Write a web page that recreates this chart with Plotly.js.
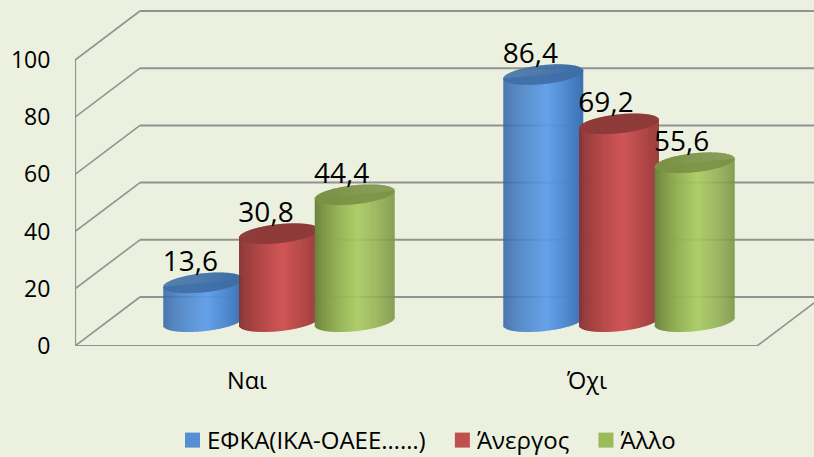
<!DOCTYPE html>
<html><head><meta charset="utf-8"><script src="https://cdn.plot.ly/plotly-3.0.1.min.js"></script>
<style>html,body{margin:0;padding:0;background:#ebf0df}</style></head>
<body><div id="chart" style="width:814px;height:457px"></div>
<script>
const categories = ['Ναι', 'Όχι'];
const seriesNames = ['ΕΦΚΑ(ΙΚΑ-ΟΑΕΕ……)\u00a0', 'Άνεργος\u00a0', 'Άλλο'];
const efka = [13.6, 86.4];
const anergos = [30.8, 69.2];
const allo = [44.4, 55.6];
const yTicks = [0, 20, 40, 60, 80, 100];
const legendColors = ['#558ed5', '#c0504d', '#9bbb59'];
const darkColors = [[50,98,160],[132,50,50],[104,128,58]];
const lightColors = [[90,155,232],[208,86,86],[168,202,96]];
const topColors = ['#3f6ea6','#8f3b3a','#7b9246'];

const seriesValues = [efka, anergos, allo];
const PXY = 2.86, PXX = 340;
const depthX = 65 / PXX, depthY = 49 / PXY;   // wall depth
const baseY = 8.5, midX = 32 / PXX;           // cylinders stand mid-floor
const step = 75.7 / PXX, halfW = 39.8 / PXX;
const ell = 9.5 / PXY, skew = 4 / PXY;
const stripN = 80;

function mix(a, b, f) { return 'rgb(' + a.map((v, i) => Math.round(v + (b[i] - v) * f)).join(',') + ')'; }

const traces = [];
seriesValues.forEach((vals, s) => {
  const side = {x: [], y: [], base: [], color: []}, top = {x: [], y: [], base: [], color: []};
  vals.forEach((v, c) => {
    const cx = c + midX + (s - 1) * step;
    for (let i = 0; i < stripN; i++) {
      const t = (i + 0.5) / stripN * 2 - 1, r = Math.sqrt(1 - t * t);
      const x = cx + t * halfW;
      const hi = baseY + v + skew * t;
      const low = baseY + skew * t - ell * r;
      side.x.push(x); side.base.push(low); side.y.push(hi - low);
      side.color.push(mix(darkColors[s], lightColors[s], Math.pow(Math.max(0, 1 - Math.abs(t - 0.08) / 1.08), 0.7)));
      top.x.push(x); top.base.push(hi - ell * r); top.y.push(2 * ell * r);
      top.color.push(topColors[s]);
    }
  });
  [side, top].forEach(p => traces.push({
    type: 'bar', x: p.x, y: p.y, base: p.base, width: 1.3 / PXX,
    marker: {color: p.color, opacity: 1, line: {width: 0}}, showlegend: false, hoverinfo: 'skip'
  }));
});

// data labels
seriesValues.forEach((vals, s) => traces.push({
  type: 'scatter', mode: 'text', showlegend: false, hoverinfo: 'skip',
  x: vals.map((v, c) => c + midX + (s - 1) * step - 13 / PXX),
  y: vals.map(v => baseY + v + 19 / PXY),
  text: vals.map(v => String(v).replace('.', ',')),
  textposition: 'middle center',
  textfont: {size: 28, color: '#000', family: 'Open Sans'}, cliponaxis: false
}));

// legend entries
seriesNames.forEach((n, s) => traces.push({
  type: 'scatter', mode: 'markers', name: n, x: [null], y: [null],
  marker: {symbol: 'square', size: 15, color: legendColors[s]}
}));

// walls and floor
const gridColor = '#929292';
const shapes = [];
const xL = -0.5059, xFloorR = xL + (757 - 75) / PXX, xMaxR = 2.2;
const ln = (x0, y0, x1, y1, w) => shapes.push({type: 'line', layer: 'below', xref: 'x', yref: 'y', x0, y0, x1, y1, line: {color: gridColor, width: w}});
yTicks.forEach(v => {
  ln(xL, v, xL + depthX, v + depthY, 1.6);
  ln(xL + depthX, v + depthY, xMaxR, v + depthY, 2);
});
ln(xL, 0, xL, 100, 2.2);
ln(xL, 0, xFloorR, 0, 2.2);
ln(xFloorR, 0, xFloorR + depthX, depthY, 1.6);

Plotly.newPlot('chart', traces, {
  width: 814, height: 457, autosize: false,
  paper_bgcolor: '#ebf0df', plot_bgcolor: '#ebf0df',
  margin: {l: 75, r: 0, t: 0, b: 111, pad: 0, autoexpand: false},
  barmode: 'overlay',
  font: {family: 'Open Sans', color: '#000'},
  xaxis: {range: [xL, xL + 739 / PXX], tickmode: 'array', tickvals: [0, 1], ticktext: categories,
    showgrid: false, zeroline: false, showline: false, ticks: 'outside', ticklen: 14, tickcolor: 'rgba(0,0,0,0)',
    tickfont: {size: 23.5, family: 'Open Sans', color: '#000'}, fixedrange: true},
  yaxis: {range: [0, 346 / PXY], tickmode: 'array', tickvals: yTicks,
    showgrid: false, zeroline: false, showline: false, ticks: 'outside', ticklen: 19, tickcolor: 'rgba(0,0,0,0)',
    ticklabelshift: -2.5,
    tickfont: {size: 23, family: 'Open Sans', color: '#000'}, fixedrange: true},
  shapes,
  showlegend: true,
  legend: {orientation: 'h', x: (167 - 75) / 739, xanchor: 'left', y: (346 - 418) / 346, yanchor: 'top',
    font: {size: 24, family: 'Open Sans', color: '#000'}, bgcolor: 'rgba(0,0,0,0)', itemsizing: 'trace', traceorder: 'normal'}
}, {displayModeBar: false, staticPlot: true}).then(() => {
  document.querySelectorAll('#chart .legend .legendsymbols').forEach(g => g.setAttribute('transform', 'translate(5.5,0)'));
});
</script></body></html>
